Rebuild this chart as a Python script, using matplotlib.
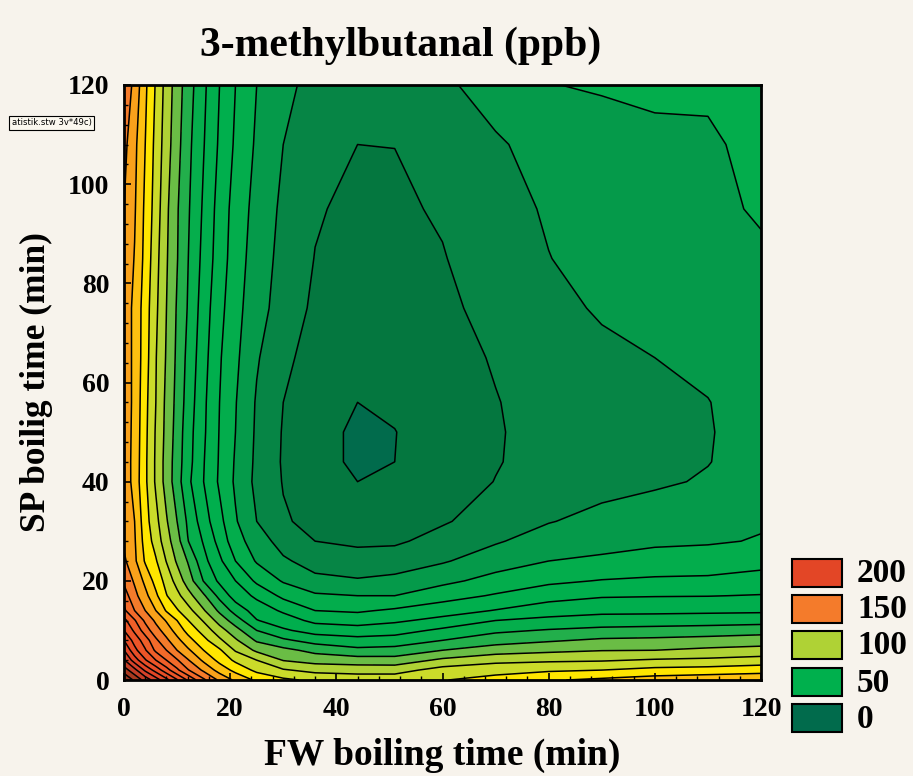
import numpy as np
import matplotlib
matplotlib.use("Agg")
import matplotlib.pyplot as plt
from matplotlib.patches import Rectangle

bg = "#F7F3EC"
serif = "Liberation Serif"

title = "3-methylbutanal (ppb)"
xlabel = "FW boiling time (min)"
ylabel = "SP boilig time (min)"
tag = "atistik.stw 3v*49c)"

legend_labels = ["200", "150", "100", "50", "0"]
legend_colors = ["#E34626", "#F47B2B", "#AFD235", "#00B04D", "#016B4C"]

x_vals = [0, 2, 4, 6, 8, 10, 12, 15, 18, 21, 25, 30, 36, 44, 51, 60, 70, 80, 90, 100, 110, 120]
y_vals = [0, 2, 4, 6, 8, 10, 12, 14, 17, 20, 24, 28, 32, 40, 44, 50, 56, 65, 75, 85, 95, 108, 120]

# values, one row per y
z_rows = [
    [250, 238, 226, 215, 203, 191, 179, 162, 148, 138, 128, 122, 118, 116, 116, 119.5, 124, 129, 132, 135, 137, 138],
    [235, 223, 208, 196, 184, 172, 161, 148, 136, 127, 117.5, 111, 107, 106, 106, 114, 116, 118.5, 120, 123, 124, 126],
    [221, 205, 191, 180, 170, 161, 151, 138, 127, 118, 110, 99.5, 96, 94.5, 94, 102, 107.3, 108.3, 109, 111, 112, 114],
    [210, 193, 181, 168, 160, 150, 142, 130, 121.5, 109, 98, 92.8, 87, 82.5, 83.5, 90, 95, 97.7, 99.6, 100, 102, 103.5],
    [200, 186, 175, 162, 152, 143, 134, 123, 112, 101.5, 88.6, 81.8, 76, 73.3, 74.3, 80, 85.8, 88.8, 91.6, 92.3, 93.6, 95],
    [190, 178, 165, 154, 145.5, 135.8, 127, 116, 104.3, 93.8, 80, 71.5, 66, 64.3, 66, 72, 78, 80.8, 82.7, 83.6, 84.5, 86],
    [183, 171, 158, 148, 139, 130, 120.5, 109, 96, 85, 70.5, 64.7, 57.5, 55.6, 58.3, 63, 70, 72.5, 74.4, 74.8, 75.4, 76],
    [172, 160, 150, 140, 129, 121, 114, 101, 88, 76, 65.5, 58.5, 50, 48.7, 51.5, 55.5, 60.5, 65.6, 67.4, 67.6, 68, 68.4],
    [165, 153, 143, 132, 120.5, 113, 104, 91.5, 77, 65.5, 58, 47.5, 41.5, 40, 40, 46, 51, 56, 59, 59.5, 59.7, 60.5],
    [158, 148.5, 137.5, 126.5, 116.5, 106, 95.5, 79.5, 68, 60, 48, 39, 32.5, 31, 32.5, 37.5, 43.5, 48, 50.5, 51.6, 52, 54],
    [152, 142, 128.8, 121, 109.5, 98.5, 89.5, 73, 62, 50, 39, 31.5, 26, 23.4, 25, 29, 35.3, 40, 41.5, 43.8, 44.4, 46.6],
    [148, 141, 126, 116, 104, 94, 80.5, 69, 56.5, 44, 35, 26, 20, 18.5, 18.5, 23.5, 29, 34.5, 37, 38.3, 39, 40.6],
    [147, 140, 124, 113, 101, 90, 78.5, 64.5, 53, 41, 30, 21, 17.5, 15, 16, 19, 24.5, 29.5, 33, 35.5, 37, 39],
    [147, 136, 122, 108.5, 96, 84.5, 72.5, 60, 48.5, 38.5, 27.5, 19.5, 15.5, 10, 12, 16, 20.2, 24, 26.5, 28.5, 31, 35],
    [146, 136.5, 122, 108.5, 96, 85, 74, 60.5, 49, 39, 28, 19, 15, 7.5, 10, 15, 19.5, 23, 25.5, 27.5, 29.7, 34],
    [146, 137, 122.5, 109, 97, 86, 74.5, 61.5, 49.5, 40, 28.5, 19.3, 16, 7, 9.8, 14.5, 19.3, 23, 24.5, 26.5, 29.4, 34],
    [146, 137.5, 123, 110, 97.5, 87, 76, 62, 50, 40.5, 29, 20, 15, 10, 11.5, 15, 19.5, 24.5, 26, 27.5, 29.7, 35],
    [146, 137.5, 124.5, 110.5, 99, 88, 77.5, 63.5, 51, 42, 31, 22, 16.5, 12.5, 13, 15.5, 21, 25, 28, 30, 32.5, 35.5],
    [146, 137.5, 125, 112, 100, 89, 79.5, 65, 53, 43.5, 33.5, 26, 18, 14.5, 15, 18, 23, 27.5, 31, 33, 35, 36.5],
    [147, 139.5, 127, 113.5, 101, 90.5, 80.5, 67, 55, 45, 35, 27, 19.7, 15.5, 16, 19.5, 25, 29.8, 33, 34.5, 36.5, 38.3],
    [150, 141, 128, 115.5, 102, 91, 81.5, 68.5, 56, 46, 36.5, 28, 21, 17.5, 18.5, 21, 26.5, 31, 34, 36, 37.5, 41.2],
    [153, 142.5, 130, 117, 104.5, 93.5, 83, 70.5, 58.5, 48.5, 38.5, 30, 23.5, 20, 20.1, 24, 29, 33, 35.5, 37.5, 38.2, 43.5],
    [158, 147, 132, 119, 106, 95, 85, 72, 60, 50, 40, 32, 27.5, 25, 25.5, 28.5, 33.5, 39.7, 41, 42.2, 42, 46],
]

band_colors = ["#016B4C", "#04773F", "#068545", "#059A4A", "#03AD4C", "#00AF4D", "#00AE4D", "#05AE4C",
               "#22AF4B", "#6ABD45", "#AFD235", "#CBDB2A", "#FFE600", "#FDC010", "#F9A11B", "#F47B2B",
               "#F26A2A", "#EF5F29", "#EC5528", "#E84E27", "#E34626", "#D6422A", "#C43D26", "#A8391F",
               "#953220", "#8A2E1E"]

fig = plt.figure(figsize=(9.13, 7.76), dpi=100, facecolor=bg)
ax = fig.add_axes([124/913, 1-680/776, (761-124)/913, (680-85)/776])

levels = np.arange(0, 261, 10)
ax.contourf(x_vals, y_vals, z_rows, levels=levels, colors=band_colors)
ax.contour(x_vals, y_vals, z_rows, levels=levels[1:-1], colors="black", linewidths=1.1)

ax.set_xlim(0, 120)
ax.set_ylim(0, 120)
ax.set_xticks(range(0, 121, 20))
ax.set_yticks(range(0, 121, 20))
ax.set_xticks(range(0, 121, 4), minor=True)
ax.set_yticks(range(0, 121, 4), minor=True)
ax.tick_params(which="major", direction="in", length=5, width=1.2)
ax.tick_params(which="minor", direction="in", length=3, width=1)
ax.tick_params(axis="x", which="major", pad=12)
ax.tick_params(axis="y", which="major", pad=10.5)
for lab in ax.get_xticklabels() + ax.get_yticklabels():
    lab.set_family(serif)
    lab.set_weight("bold")
    lab.set_size(20)

# top and right edges carry their own tick spacing
top = ax.secondary_xaxis("top")
right = ax.secondary_yaxis("right")
for sec in (top, right):
    sec.set_ticks(range(0, 121, 15), labels=[])
    sec.set_ticks(range(0, 121, 3), minor=True)
    sec.tick_params(which="major", direction="in", length=5, width=1)
    sec.tick_params(which="minor", direction="in", length=3, width=1)
    sec.spines[:].set_visible(False)

for sp in ax.spines.values():
    sp.set_linewidth(2)

fig.text(401/913, 1-46/776, title, family=serif, weight="bold", size=30, ha="center", va="center")
fig.text(442/913, 1-755/776, xlabel, family=serif, weight="bold", size=27, ha="center", va="center")
fig.text(36/913, 1-382/776, ylabel, family=serif, weight="bold", size=25.5, rotation=90, ha="center", va="center")

fig.text(12/913, 1-123/776, tag, family="DejaVu Sans", size=6.1, ha="left", va="center",
         bbox=dict(boxstyle="square,pad=0.3", fc="#FBF8EF", ec="black", lw=0.8))

box_tops = [559, 595, 631, 668, 704]
for top_px, col, lab in zip(box_tops, legend_colors, legend_labels):
    fig.add_artist(Rectangle((792/913, 1-(top_px+28)/776), 50/913, 28/776, transform=fig.transFigure,
                             fc=col, ec="black", lw=1.5))
    fig.text(857/913, 1-(top_px+15)/776, lab, family=serif, weight="bold", size=24, ha="left", va="center")

fig.savefig("out.png", dpi=100, facecolor=bg)
